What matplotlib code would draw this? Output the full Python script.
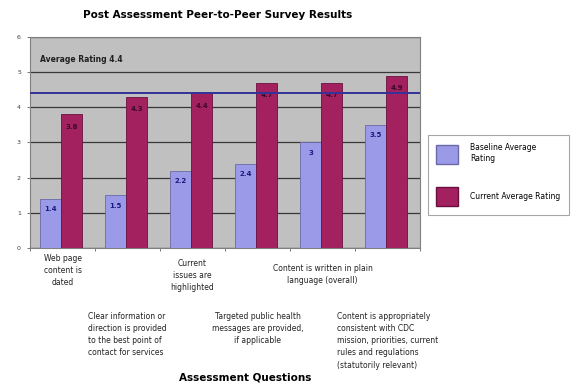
import matplotlib
matplotlib.use("Agg")
import matplotlib.pyplot as plt
from matplotlib.patches import Patch
import matplotlib.transforms as mtransforms
import numpy as np

categories = [
    "Web page\ncontent is\ndated",
    "Clear information or\ndirection is provided\nto the best point of\ncontact for services",
    "Current\nissues are\nhighlighted",
    "Targeted public health\nmessages are provided,\nif applicable",
    "Content is written in plain\nlanguage (overall)",
    "Content is appropriately\nconsistent with CDC\nmission, priorities, current\nrules and regulations\n(statutorily relevant)",
]
baseline = [1.4, 1.5, 2.2, 2.4, 3.0, 3.5]
current = [3.8, 4.3, 4.4, 4.7, 4.7, 4.9]
baseline_labels = ["1.4", "1.5", "2.2", "2.4", "3", "3.5"]
current_labels = ["3.8", "4.3", "4.4", "4.7", "4.7", "4.9"]
average_rating = 4.4
series_names = ["Baseline Average\nRating", "Current Average Rating"]
y_ticks = [0, 1, 2, 3, 4, 5, 6]

c_base = "#9a9ae8"
c_curr = "#a3215f"

W, H = 581, 387
fig = plt.figure(figsize=(W / 100, H / 100), dpi=100)
ax = fig.add_axes([30 / W, 1 - 248 / H, 390 / W, 211 / H])
ax.set_facecolor("#c0c0c0")

x = np.arange(len(categories)) + 0.5
bw = 0.32
ax.bar(x - bw / 2 - 0.02, baseline, bw, color=c_base, edgecolor="#6a6aa8", linewidth=0.6, zorder=3)
ax.bar(x + bw / 2 - 0.02, current, bw, color=c_curr, edgecolor="#6a1040", linewidth=0.6, zorder=3)

for xi, v, s in zip(x, baseline, baseline_labels):
    ax.text(xi - bw / 2 - 0.02, v - 0.3, s, ha="center", va="center", fontsize=5,
            color="#1a1a80", fontweight="bold", zorder=4)
for xi, v, s in zip(x, current, current_labels):
    ax.text(xi + bw / 2 - 0.02, v - 0.35, s, ha="center", va="center", fontsize=5,
            color="#3a0a2a", fontweight="bold", zorder=4)

ax.axhline(average_rating, color="#333399", linewidth=1.4, zorder=4)
ax.text(0.15, 5.35, f"Average Rating {average_rating}", fontsize=5.5, fontweight="bold",
        ha="left", va="center", color="#202020", zorder=4)

ax.set_xlim(0, 6)
ax.set_ylim(0, 6)
ax.set_yticks(y_ticks)
ax.set_yticklabels([str(t) for t in y_ticks], fontsize=4.5, color="#404040")
ax.yaxis.grid(True, color="#383838", linewidth=0.9, zorder=1)
ax.set_axisbelow(True)
ax.set_xticks(np.arange(0, 7))
ax.set_xticklabels([])
ax.tick_params(axis="both", length=2.5, width=0.6, color="#606060", pad=4)
for sp in ax.spines.values():
    sp.set_color("#808080")
    sp.set_linewidth(0.8)

# staggered category labels below the axis
trans = mtransforms.blended_transform_factory(ax.transData, fig.transFigure)
aligns = ["center", "left", "center", "center", "center", "left"]
label_top = [254, 312, 259, 312, 264, 312]
for i, (xi, lab) in enumerate(zip(x, categories)):
    ax.text(xi, 1 - label_top[i] / H, lab, transform=trans, ha="center", va="top",
            fontsize=5.5, multialignment=aligns[i], linespacing=1.45, color="#222222")

fig.text(218 / W, 1 - 15 / H, "Post Assessment Peer-to-Peer Survey Results",
         ha="center", va="center", fontsize=7.5, fontweight="bold")
fig.text(245 / W, 1 - 378 / H, "Assessment Questions", ha="center", va="center",
         fontsize=7.5, fontweight="bold")

handles = [Patch(facecolor=c_base, edgecolor="#6a6aa8"), Patch(facecolor=c_curr, edgecolor="#6a1040")]
leg = fig.legend(handles, series_names, loc="upper left",
                 bbox_to_anchor=(428 / W, 1 - 135 / H), fontsize=5.5, frameon=True,
                 fancybox=False, edgecolor="#909090", handlelength=2.8, handleheight=3.6,
                 labelspacing=2.9, borderpad=1.1, handletextpad=1.6, borderaxespad=0)
leg.get_frame().set_linewidth(0.8)

fig.savefig("out.png", dpi=100)
